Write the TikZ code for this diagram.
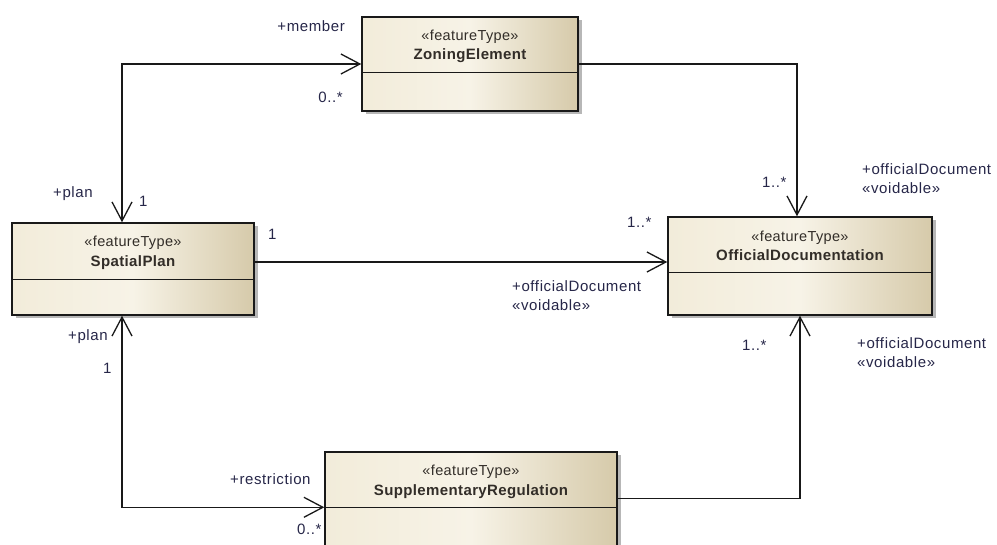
\documentclass[tikz,border=0pt]{standalone}
\usepackage{fontspec}
\setmainfont{Liberation Sans}
\newfontfamily\lblfont[LetterSpace=4]{Liberation Sans}
\newfontfamily\ttlfont[LetterSpace=2.5]{Liberation Sans}
\usetikzlibrary{arrows.meta,shadows,calc}
\definecolor{boxleft}{RGB}{242,236,218}
\definecolor{boxmid}{RGB}{247,243,231}
\definecolor{boxright}{RGB}{214,202,170}
\definecolor{labelcol}{RGB}{38,38,72}
\definecolor{titlecol}{RGB}{50,45,40}
\definecolor{edgecol}{RGB}{25,25,25}

\begin{document}
\begin{tikzpicture}[x=1pt,y=-1pt,
  classbox/.style={draw=edgecol, line width=1.4pt, rectangle, inner sep=0pt,
    left color=boxleft, right color=boxright, middle color=boxmid,
    drop shadow={shadow xshift=3.5pt, shadow yshift=-3.5pt, fill=black!40, opacity=0.7}},
  divider/.style={draw=edgecol, line width=1.2pt},
  stereo/.style={anchor=base, text=titlecol, font=\ttlfont\fontsize{14.5}{16}\selectfont},
  cname/.style={anchor=base, text=titlecol, font=\ttlfont\fontsize{15}{16}\selectfont\bfseries},
  lbl/.style={text=labelcol, font=\lblfont\fontsize{15}{19.5}\selectfont, inner sep=0pt},
  role/.style={lbl, align=left, anchor=north west},
  assoc/.style={draw=edgecol, line width=1.3pt,
    -{Straight Barb[length=19pt,width=20pt,line width=1.3pt]}},
  assoc2/.style={draw=edgecol, line width=1.3pt,
    {Straight Barb[length=19pt,width=20pt,line width=1.3pt]}-{Straight Barb[length=19pt,width=20pt,line width=1.3pt]}}
]
\useasboundingbox (0,0) rectangle (997,545);
\clip (0,0) rectangle (997,545);

% classes
\node[classbox, minimum width=216pt, minimum height=94pt] (ze) at (470,64) {};
\node[classbox, minimum width=242pt, minimum height=92pt] (sp) at (133,269) {};
\node[classbox, minimum width=264pt, minimum height=98pt] (od) at (800,266) {};
\node[classbox, minimum width=292pt, minimum height=130pt] (sr) at (471,517) {};

% compartment dividers
\draw[divider] ([yshift=-56pt]ze.north west) -- ([yshift=-56pt]ze.north east);
\draw[divider] ([yshift=-57pt]sp.north west) -- ([yshift=-57pt]sp.north east);
\draw[divider] ([yshift=-56pt]od.north west) -- ([yshift=-56pt]od.north east);
\draw[divider] ([yshift=-56pt]sr.north west) -- ([yshift=-56pt]sr.north east);

% class titles
\node[stereo] (zes) at ([yshift=-24pt]ze.north) {«featureType»};
\node[cname]  (zen) at ([yshift=-43pt]ze.north) {ZoningElement};
\node[stereo] (sps) at ([yshift=-24pt]sp.north) {«featureType»};
\node[cname]  (spn) at ([yshift=-44pt]sp.north) {SpatialPlan};
\node[stereo] (ods) at ([yshift=-25pt]od.north) {«featureType»};
\node[cname]  (odn) at ([yshift=-44pt]od.north) {OfficialDocumentation};
\node[stereo] (srs) at ([yshift=-24pt]sr.north) {«featureType»};
\node[cname]  (srn) at ([yshift=-44pt]sr.north) {SupplementaryRegulation};

% connector end points
\coordinate (spTop) at ([xshift=-11pt]sp.north);
\coordinate (spBot) at ([xshift=-11pt]sp.south);
\coordinate (spOut) at ([yshift=7pt]sp.east);
\coordinate (srIn)  at ([yshift=-56pt]sr.north west);
\coordinate (srOut) at ([yshift=-47pt]sr.north east);
\coordinate (odTop) at ([xshift=-3pt]od.north);

% associations
\draw[assoc2] (spTop) |- (ze.west);
\draw[assoc]  (ze.east) -| (odTop);
\draw[assoc]  (spOut) -- (spOut -| od.west);
\draw[assoc2] (spBot) |- (srIn);
\draw[assoc]  (srOut) -| (od.south);

% role names and multiplicities
\node[lbl, anchor=base east] (m1) at (345,32) {+member};
\node[lbl, anchor=base east] (m2) at (343,103) {0..*};
\node[lbl, anchor=base west] (m3) at (53,198) {+plan};
\node[lbl, anchor=base west] (m4) at (139,207) {1};
\node[lbl, anchor=base west] (m5) at (268,240) {1};
\node[lbl, anchor=base west] (m6) at (68,341) {+plan};
\node[lbl, anchor=base west] (m7) at (103,374) {1};
\node[lbl, anchor=base west] (m8) at (762,188) {1..*};
\node[lbl, anchor=base west] (m9) at (627,228) {1..*};
\node[lbl, anchor=base west] (m10) at (742,351) {1..*};
\node[lbl, anchor=base west] (m11) at (230,485) {+restriction};
\node[lbl, anchor=base west] (m12) at (297,534) {0..*};
\node[role] (r1) at (862,163) {+officialDocument\\«voidable»};
\node[role] (r2) at (512,280) {+officialDocument\\«voidable»};
\node[role] (r3) at (857,337) {+officialDocument\\«voidable»};
\end{tikzpicture}
\end{document}
